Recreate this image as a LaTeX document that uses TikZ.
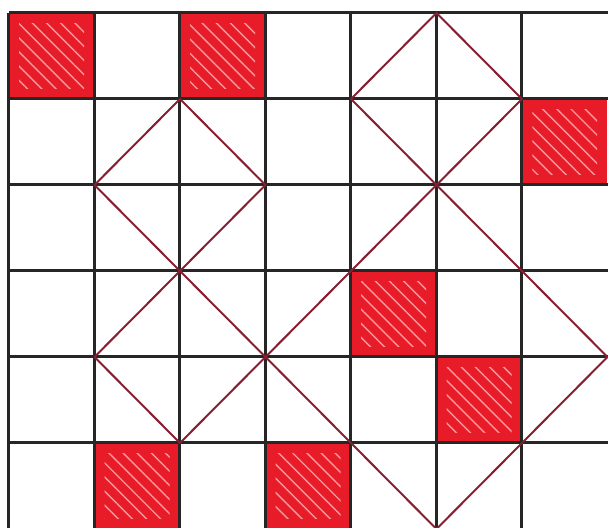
\documentclass[tikz,border=0pt]{standalone}
\usetikzlibrary{patterns.meta}
\definecolor{markerred}{RGB}{232,28,40}
\definecolor{diagred}{RGB}{135,30,50}
\tikzset{
  gridline/.style={line width=1.5pt, black!85},
  diagline/.style={line width=1pt, diagred, line join=round},
  redcell/.style={fill=markerred},
  hatchcell/.style={pattern={Lines[angle=-45,distance=5pt,line width=0.7pt]},
                    pattern color=white!55!markerred},
}
\begin{document}
\begin{tikzpicture}[x=42.75pt, y=-43pt]
  \useasboundingbox (-0.105,-0.151) rectangle (7.006,5.988);
  \clip (-0.105,-0.151) rectangle (7.006,5.988);
  \fill[white] (-0.105,-0.151) rectangle (7.006,5.988);
  % shaded cells
  \foreach \c/\r in {0/0, 2/0, 6/1, 4/3, 5/4, 1/5, 3/5} {
    \fill[redcell] (\c,\r) rectangle ++(1,1);
    \fill[hatchcell] (\c+0.12,\r+0.12) rectangle ++(0.76,0.76);
  }
  % grid
  \foreach \i in {0,...,6} \draw[gridline] (\i,0) -- (\i,6.2);
  \foreach \j in {0,...,5} \draw[gridline] (0,\j) -- (7.2,\j);
  % diagonals
  \draw[diagline] (1,2) -- (2,1) -- (3,2) -- (2,3) -- cycle;
  \draw[diagline] (1,4) -- (2,3) -- (3,4) -- (2,5) -- cycle;
  \draw[diagline] (4,3) -- (3,4) -- (4,5) -- (5,6) -- (6,5) -- (7,4)
                  -- (6,3) -- (5,2) -- (4,1) -- (5,0) -- (6,1) -- (5,2) -- (4,3);
\end{tikzpicture}
\end{document}
